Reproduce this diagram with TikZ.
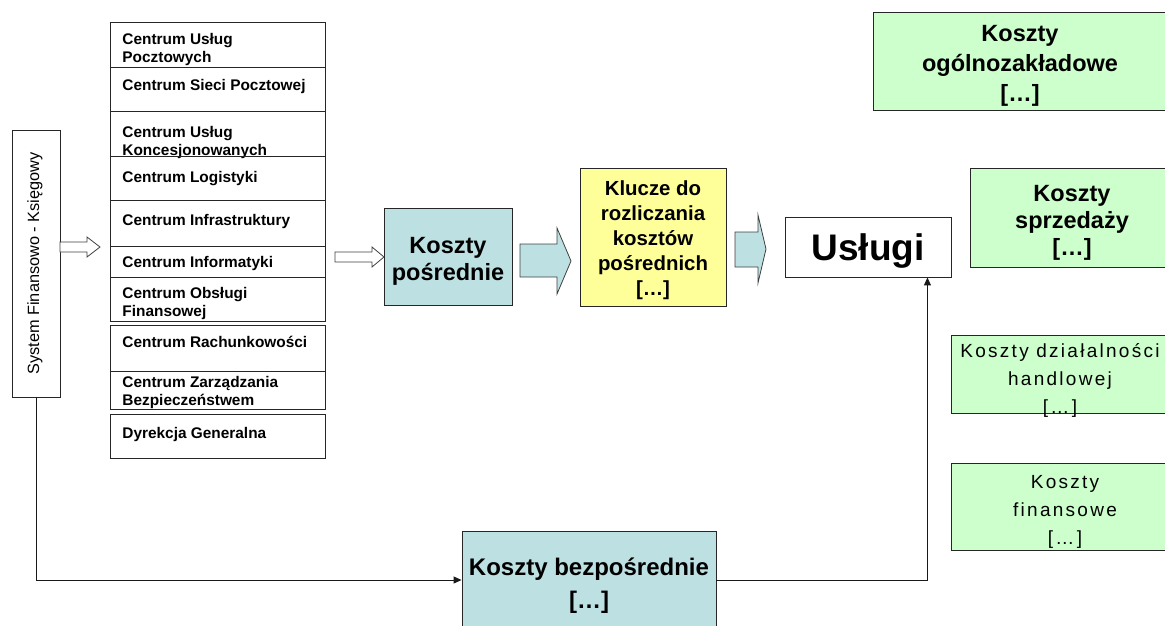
\documentclass[tikz,border=0pt]{standalone}
\usepackage{fontspec}
\setmainfont{Liberation Sans}
\newfontfamily\spacedfont[LetterSpace=12]{Liberation Sans}
\usetikzlibrary{arrows.meta,calc}
\definecolor{kblue}{HTML}{BDE0E3}
\definecolor{kyellow}{HTML}{FFFF99}
\definecolor{kgreen}{HTML}{CCFFCC}
\newcommand\elided{{[…]}}
\begin{document}
\begin{tikzpicture}[x=1pt,y=-1pt,
  line width=0.9pt,
  cbox/.style={draw=black!85, rectangle, inner sep=0pt, minimum width=215pt},
  ctext/.style={inner sep=0pt, align=left, font=\bfseries\fontsize{15.4}{17.5}\selectfont},
  kbox/.style={draw=black!85, rectangle, inner sep=0pt},
  ktext/.style={inner sep=0pt, align=center},
  harrow/.style={draw=black!75, fill=white, line width=0.8pt},
  barrow/.style={draw=black!75, fill=kblue, line width=0.8pt},
  conn/.style={draw=black!90, line width=1pt, -{Triangle[length=8pt,width=7pt]}}
]
\useasboundingbox (0,0) rectangle (1165,625);
\newcommand\centrumbox[5]{%
  \node[cbox, minimum height={#3-#2}] (#1) at (217.5,{(#2+#3)/2}) {};
  \node[ctext, anchor=north west] at (122,#4) {#5};}

% system box
\node[kbox, minimum width=48pt, minimum height=267pt] (sys) at (36,263.5) {};
\node[ktext, rotate=90, font=\fontsize{16.3}{18}\selectfont] at ($(sys.center)+(-1,0)$) {System Finansowo - Księgowy};

% centrum list
\centrumbox{c1}{22}{67}{33}{Centrum Usług\\Pocztowych}
\centrumbox{c2}{67}{111}{79}{Centrum Sieci Pocztowej}
\centrumbox{c3}{111}{156}{126}{Centrum Usług\\Koncesjonowanych}
\centrumbox{c4}{156}{200}{171}{Centrum Logistyki}
\centrumbox{c5}{200}{246}{214}{Centrum Infrastruktury}
\centrumbox{c6}{246}{277}{256}{Centrum Informatyki}
\centrumbox{c7}{277}{321}{287}{Centrum Obsługi\\Finansowej}
\centrumbox{c8}{325}{371}{336}{Centrum Rachunkowości}
\centrumbox{c9}{371}{409}{376}{Centrum Zarządzania\\Bezpieczeństwem}
\centrumbox{c10}{414}{458}{427}{Dyrekcja Generalna}

% main boxes
\node[kbox, fill=kblue, minimum width=128pt, minimum height=97pt] (kp) at (448,256.5) {};
\node[ktext, font=\bfseries\fontsize{23.5}{27}\selectfont] at ($(kp.center)+(0,5)$) {Koszty\\pośrednie};
\node[kbox, fill=kyellow, minimum width=146pt, minimum height=138pt] (kl) at (653,237) {};
\node[ktext, font=\bfseries\fontsize{20.4}{25}\selectfont] at ($(kl.center)+(0,3)$) {Klucze do\\rozliczania\\kosztów\\pośrednich\\\elided};
\node[kbox, fill=white, minimum width=166pt, minimum height=60pt] (us) at (868,247) {};
\node[ktext, font=\bfseries\fontsize{37}{40}\selectfont] at ($(us.center)+(0,4)$) {Usługi};
\node[kbox, fill=kblue, minimum width=254pt, minimum height=98pt] (kb) at (589,580) {};
\node[ktext, font=\bfseries\fontsize{24}{33}\selectfont] at ($(kb.center)+(0,6)$) {Koszty bezpośrednie\\\elided};

% right green boxes
\node[kbox, fill=kgreen, minimum width=294pt, minimum height=98pt] (ko) at (1020,61) {};
\node[ktext, font=\bfseries\fontsize{23.5}{30}\selectfont] at ($(ko.center)+(0,4.5)$) {Koszty\\ogólnozakładowe\\\elided};
\node[kbox, fill=kgreen, minimum width=204pt, minimum height=99pt] (ks) at (1072,217.5) {};
\node[ktext, font=\bfseries\fontsize{23.5}{27}\selectfont] at ($(ks.center)+(0,5)$) {Koszty\\sprzedaży\\\elided};
\node[kbox, fill=kgreen, minimum width=222pt, minimum height=78pt] (kd) at (1062,374) {};
\node[ktext, font=\spacedfont\fontsize{19}{28}\selectfont] at ($(kd.center)+(-2,6)$) {Koszty działalności\\handlowej\\\elided};
\node[kbox, fill=kgreen, minimum width=222pt, minimum height=87pt] (kf) at (1062,506.5) {};
\node[ktext, font=\spacedfont\fontsize{19}{28}\selectfont] at ($(kf.center)+(3,5)$) {Koszty\\finansowe\\\elided};

% block arrows
\draw[harrow] (60,242) -- (87,242) -- (87,237) -- (100,247) -- (87,257) -- (87,252) -- (60,252) -- cycle;
\draw[harrow] (335,252) -- (372,252) -- (372,247) -- (384,257) -- (372,267) -- (372,262) -- (335,262) -- cycle;
\draw[barrow] (520,244) -- (557,244) -- (557,228) -- (571,261) -- (557,294) -- (557,277) -- (520,277) -- cycle;
\draw[barrow] (735,232) -- (758,232) -- (758,215) -- (766,249) -- (758,283) -- (758,267) -- (735,267) -- cycle;

% connectors
\draw[conn] (sys.south) |- (kb.west);
\coordinate (usin) at ($(us.south east)+(-24,0)$);
\draw[conn] (kb.east) -| (usin);
\end{tikzpicture}
\end{document}
